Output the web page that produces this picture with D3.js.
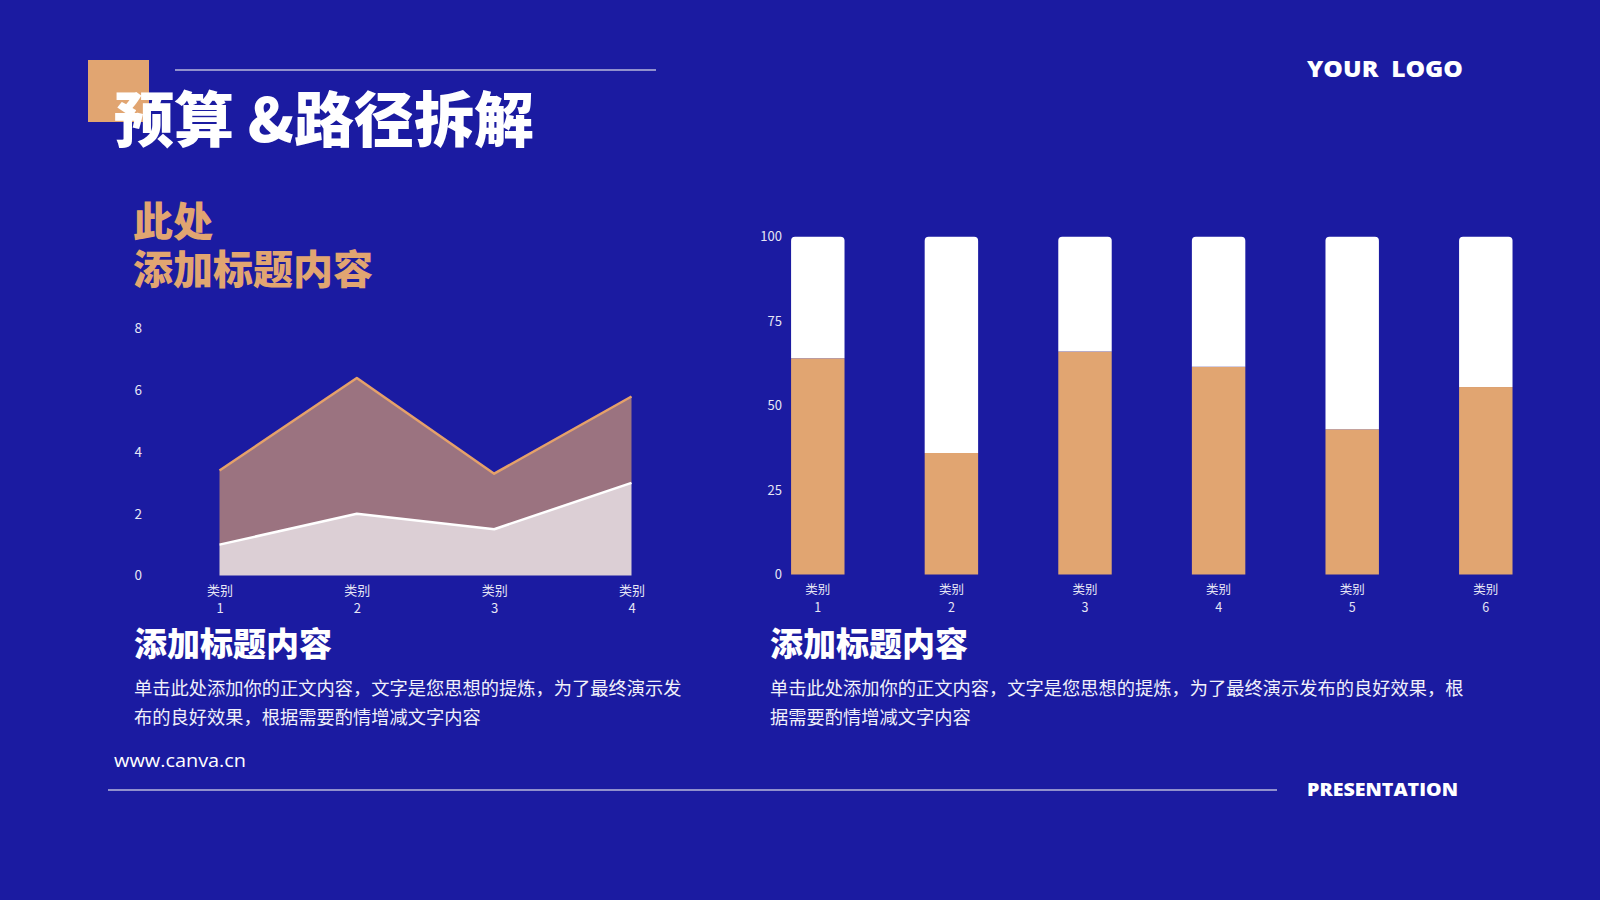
<!DOCTYPE html>
<html>
<head>
<meta charset="utf-8">
<script src="https://cdn.jsdelivr.net/npm/d3@7"></script>
<style>
html,body{margin:0;padding:0;background:#1b1ba1;}
svg{display:block;}
</style>
</head>
<body>
<svg id="chart" width="1600" height="900"></svg>
<script>
// ---- data ----
const areaCategories = ["类别 1", "类别 2", "类别 3", "类别 4"];
const areaSeries1 = [1.0, 2.0, 1.5, 3.0];
const areaSeries2 = [2.4, 4.4, 1.8, 2.8];
const areaTicks = [0, 2, 4, 6, 8];

const barCategories = ["类别 1", "类别 2", "类别 3", "类别 4", "类别 5", "类别 6"];
const barSeries1 = [64, 36, 66, 61.5, 43, 55.5];
const barSeries2 = [36, 64, 34, 38.5, 57, 44.5];
const barTicks = [0, 25, 50, 75, 100];

const titleText = "预算 &路径拆解";
const subTitleLines = ["此处", "添加标题内容"];
const sectionTitle = "添加标题内容";
const leftBody = ["单击此处添加你的正文内容，文字是您思想的提炼，为了最终演示发", "布的良好效果，根据需要酌情增减文字内容"];
const rightBody = ["单击此处添加你的正文内容，文字是您思想的提炼，为了最终演示发布的良好效果，根", "据需要酌情增减文字内容"];

// ---- styles ----
const BG = "#1b1ba1";
const ORANGE = "#e1a571";
const CJK = "'Noto Sans CJK SC','Noto Sans',sans-serif";
const LATIN = "'Open Sans','Noto Sans',sans-serif";

const svg = d3.select("#chart");
svg.append("rect").attr("width", 1600).attr("height", 900).attr("fill", BG);

// decorations
svg.append("rect").attr("x", 88).attr("y", 60).attr("width", 61).attr("height", 62).attr("fill", ORANGE);
svg.append("line").attr("x1", 175).attr("x2", 656).attr("y1", 70).attr("y2", 70)
  .attr("stroke", "#b9b9dc").attr("stroke-width", 1.3);
svg.append("line").attr("x1", 108).attr("x2", 1277).attr("y1", 790).attr("y2", 790)
  .attr("stroke", "#b9b9dc").attr("stroke-width", 1.5);

svg.append("text").attr("x", 114).attr("y", 115).attr("dominant-baseline", "central")
  .attr("fill", "#fff").attr("font-family", CJK).attr("font-weight", 900).attr("font-size", 60)
  .text(titleText);

svg.append("text").attr("x", 1307).attr("y", 68).attr("dominant-baseline", "central")
  .attr("fill", "#fff").attr("font-family", LATIN).attr("font-weight", 800).attr("font-size", 22)
  .attr("textLength", 156).attr("lengthAdjust", "spacingAndGlyphs")
  .attr("xml:space", "preserve").text("YOUR  LOGO");

svg.append("text").attr("x", 1307).attr("y", 789).attr("dominant-baseline", "central")
  .attr("fill", "#fff").attr("font-family", LATIN).attr("font-weight", 800).attr("font-size", 17)
  .attr("textLength", 151).attr("lengthAdjust", "spacingAndGlyphs")
  .text("PRESENTATION");

svg.append("text").attr("x", 114).attr("y", 760).attr("dominant-baseline", "central")
  .attr("fill", "#fff").attr("font-family", LATIN).attr("font-weight", 400).attr("font-size", 17.5)
  .attr("textLength", 132).attr("lengthAdjust", "spacingAndGlyphs")
  .text("www.canva.cn");

// orange subtitle (one text block, two lines)
const sub = svg.append("text").attr("fill", ORANGE).attr("font-family", CJK)
  .attr("font-weight", 900).attr("font-size", 40);
subTitleLines.forEach((t, i) => {
  sub.append("tspan").attr("x", 133).attr("y", 219 + i * 48).attr("dominant-baseline", "central").text(t);
});

// section titles + body
[[134, leftBody], [770, rightBody]].forEach(([x, body]) => {
  svg.append("text").attr("x", x).attr("y", 642).attr("dominant-baseline", "central")
    .attr("fill", "#fff").attr("font-family", CJK).attr("font-weight", 900).attr("font-size", 33)
    .text(sectionTitle);
  const b = svg.append("text").attr("fill", "#f0f0fa").attr("font-family", CJK)
    .attr("font-weight", 400).attr("font-size", 18.25);
  body.forEach((t, i) => {
    b.append("tspan").attr("x", x).attr("y", 687 + i * 28.5).attr("dominant-baseline", "central").text(t);
  });
});

// ---- left: stacked area ----
const ax = d3.scalePoint().domain(areaCategories).range([219.5, 631.5]);
const ay = d3.scaleLinear().domain([0, 8]).range([575.5, 328.6]);

const areaRows = areaCategories.map((c, i) => ({cat: c, s1: areaSeries1[i], s2: areaSeries2[i]}));
const stacked = d3.stack().keys(["s1", "s2"])(areaRows);
const areaGen = d3.area().x(d => ax(d.data.cat)).y0(d => ay(d[0])).y1(d => ay(d[1]));
const lineGen = d3.line().x(d => ax(d.data.cat)).y(d => ay(d[1]));

const areaFills = ["#dccfd5", "#9b7380"];
const lineColors = ["#ffffff", "#e5a16a"];
const gA = svg.append("g");
[1, 0].forEach(k => {
  gA.append("path").attr("d", areaGen(stacked[k])).attr("fill", areaFills[k]);
});
[1, 0].forEach(k => {
  gA.append("path").attr("d", lineGen(stacked[k])).attr("fill", "none")
    .attr("stroke", lineColors[k]).attr("stroke-width", 2.5).attr("stroke-linejoin", "round");
});

const ayAxis = svg.append("g").attr("transform", "translate(142,0)")
  .call(d3.axisLeft(ay).tickValues(areaTicks).tickSize(0).tickPadding(0));
ayAxis.select(".domain").remove();
ayAxis.selectAll("text").attr("fill", "#e6e6f5").attr("font-family", CJK).attr("font-size", 13.5);

const axAxis = svg.append("g").attr("transform", "translate(0,575.5)")
  .call(d3.axisBottom(ax).tickSize(0).tickFormat(""));
axAxis.select(".domain").remove();
axAxis.selectAll(".tick").each(function(d) {
  const parts = d.split(" ");
  const t = d3.select(this).append("text").attr("fill", "#e6e6f5").attr("font-family", CJK)
    .attr("font-size", 13).attr("text-anchor", "middle");
  t.append("tspan").attr("x", 0).attr("y", 14).attr("dominant-baseline", "central").text(parts[0]);
  t.append("tspan").attr("x", 0).attr("y", 32).attr("dominant-baseline", "central").text(parts[1]);
});

// ---- right: 100% stacked columns ----
const bx = d3.scaleBand().domain(barCategories).range([751, 1552.6]).paddingInner(0.6).paddingOuter(0.3);
const by = d3.scaleLinear().domain([0, 100]).range([574.5, 236.7]);
const gB = svg.append("g");
const r = 4;
barCategories.forEach((c, i) => {
  const x0 = bx(c), w = bx.bandwidth();
  const v1 = barSeries1[i], v2 = barSeries2[i];
  gB.append("rect").attr("x", x0).attr("y", by(v1)).attr("width", w)
    .attr("height", by(0) - by(v1)).attr("fill", ORANGE);
  const yt = by(v1 + v2), yb = by(v1);
  const p = d3.path();
  p.moveTo(x0, yb);
  p.lineTo(x0, yt + r);
  p.arcTo(x0, yt, x0 + r, yt, r);
  p.lineTo(x0 + w - r, yt);
  p.arcTo(x0 + w, yt, x0 + w, yt + r, r);
  p.lineTo(x0 + w, yb);
  p.closePath();
  gB.append("path").attr("d", p.toString()).attr("fill", "#ffffff");
});

const byAxis = svg.append("g").attr("transform", "translate(782,0)")
  .call(d3.axisLeft(by).tickValues(barTicks).tickSize(0).tickPadding(0));
byAxis.select(".domain").remove();
byAxis.selectAll("text").attr("fill", "#e6e6f5").attr("font-family", CJK).attr("font-size", 13);

const bxAxis = svg.append("g").attr("transform", "translate(0,574.5)")
  .call(d3.axisBottom(bx).tickSize(0).tickFormat(""));
bxAxis.select(".domain").remove();
bxAxis.selectAll(".tick").each(function(d) {
  const parts = d.split(" ");
  const t = d3.select(this).append("text").attr("fill", "#e6e6f5").attr("font-family", CJK)
    .attr("font-size", 12.5).attr("text-anchor", "middle");
  t.append("tspan").attr("x", 0).attr("y", 14).attr("dominant-baseline", "central").text(parts[0]);
  t.append("tspan").attr("x", 0).attr("y", 31.5).attr("dominant-baseline", "central").text(parts[1]);
});
</script>
</body>
</html>
